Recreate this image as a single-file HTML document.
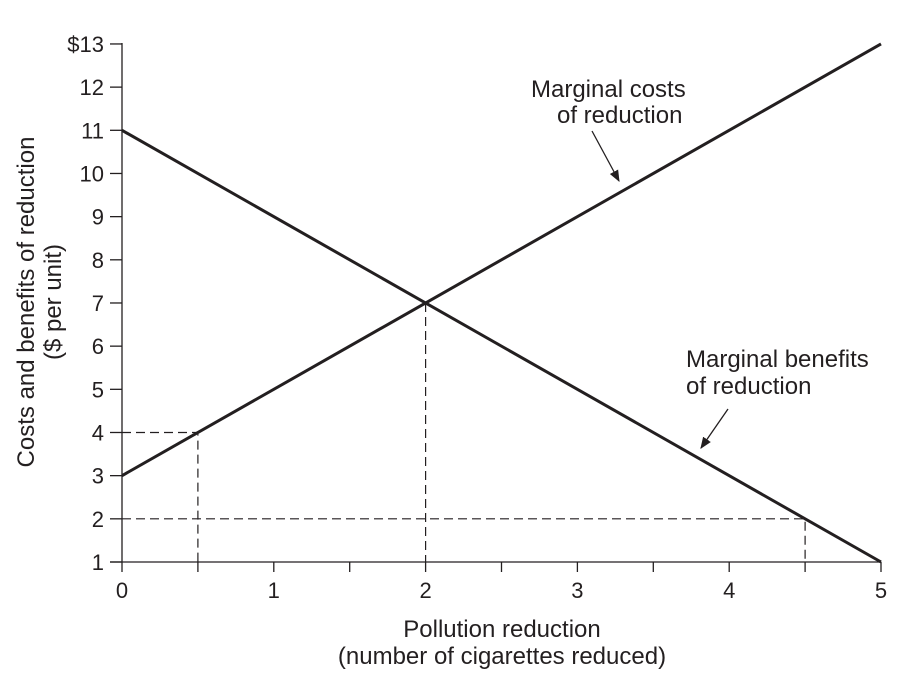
<!DOCTYPE html>
<html><head><meta charset="utf-8"><style>
body{margin:0;background:#fff}
svg{display:block;font-family:"Liberation Sans",Arial,sans-serif;fill:#231f20}
</style></head><body>
<svg width="898" height="676" id="c">
<defs><marker id="ah" viewBox="0 0 10 10" refX="9" refY="5" markerWidth="9" markerHeight="9" orient="auto"><path d="M0,1 L10,5 L0,9 z" fill="#231f20"/></marker></defs>
</svg>
<script>
const xTicks=[0,1,2,3,4,5];
const yTicks=[1,2,3,4,5,6,7,8,9,10,11,12,13];
const costX=[0,5], costY=[3,13];
const benX=[0,5], benY=[11,1];
const refX=[0.5,2,4.5], refY=[4,7,2];
const refH=[true,false,true];
const X=v=>122+v*151.8, Y=v=>562-(v-1)*43.17;
const s=document.getElementById('c'),NS='http://www.w3.org/2000/svg';
function mk(t,a,p){const e=document.createElementNS(NS,t);for(const k in a)e.setAttribute(k,a[k]);(p||s).appendChild(e);return e;}
let e;
e=mk('line',{x1:122,y1:43,x2:122,y2:562,stroke:'#231f20','stroke-width':1.3});


e=mk('line',{x1:110,y1:562,x2:881,y2:562,stroke:'#231f20','stroke-width':1.3});


yTicks.forEach(v=>{mk('line',{x1:110,y1:Y(v),x2:122,y2:Y(v),stroke:'#231f20','stroke-width':1.3});
e=mk('text',{x:104,y:Y(v)+8,'text-anchor':'end','font-size':22});e.textContent=(v===13?'$':'')+v;

});
for(let v=0;v<=5;v+=0.5)mk('line',{x1:X(v),y1:562,x2:X(v),y2:572,stroke:'#231f20','stroke-width':1.3});
xTicks.forEach(v=>{e=mk('text',{x:X(v),y:598,'text-anchor':'middle','font-size':22});e.textContent=v;

});
refX.forEach((v,i)=>{e=mk('path',{d:(refH[i]?`M122,${Y(refY[i])}H${X(v)}`:`M${X(v)},${Y(refY[i])}`)+'V562',fill:'none',stroke:'#231f20','stroke-width':1.2,'stroke-dasharray':'9,5'});

});
e=mk('line',{x1:X(costX[0]),y1:Y(costY[0]),x2:X(costX[1]),y2:Y(costY[1]),stroke:'#231f20','stroke-width':3});


e=mk('line',{x1:X(benX[0]),y1:Y(benY[0]),x2:X(benX[1]),y2:Y(benY[1]),stroke:'#231f20','stroke-width':3});


function txt(x,y,t,n,a,sz,rot){e=mk('text',{x:x,y:y,'font-size':sz||24,'text-anchor':a||'start'});if(rot)e.setAttribute('transform',rot);e.textContent=t;

}
txt(531,97,'Marginal costs','cost-label');txt(557,123,'of reduction','cost-label');
txt(686,367,'Marginal benefits','benefit-label');txt(686,394,'of reduction','benefit-label');
e=mk('line',{x1:592,y1:131,x2:619,y2:181,stroke:'#231f20','stroke-width':1.3,'marker-end':'url(#ah)'});


e=mk('line',{x1:728,y1:409,x2:701,y2:448,stroke:'#231f20','stroke-width':1.3,'marker-end':'url(#ah)'});


txt(502,637,'Pollution reduction','x-axis-title','middle',24);
txt(502,664,'(number of cigarettes reduced)','x-axis-title','middle',24);
txt(0,0,'Costs and benefits of reduction','y-axis-title','middle',24,'translate(34,302) rotate(-90)');
txt(0,0,'($ per unit)','y-axis-title','middle',24,'translate(61,302) rotate(-90)');
</script>
</body></html>
